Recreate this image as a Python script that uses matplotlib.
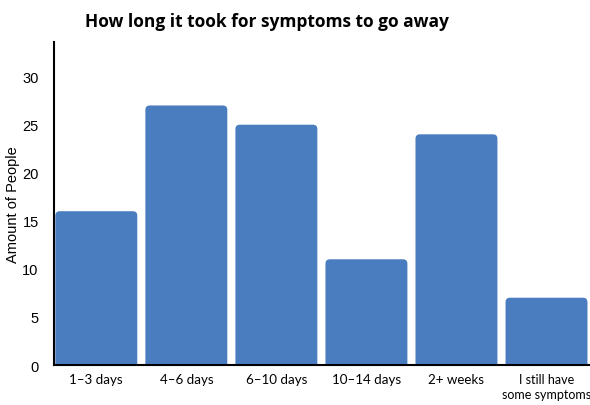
import matplotlib
matplotlib.use("Agg")
import matplotlib.pyplot as plt
from matplotlib.patches import FancyBboxPatch

categories = ["1–3 days", "4–6 days", "6–10 days", "10–14 days", "2+ weeks", "I still have\nsome symptoms"]
values = [16, 27, 25, 11, 24, 7]
yticks = [0, 5, 10, 15, 20, 25, 30]

bar_color = "#4a7dbf"

fig = plt.figure(figsize=(5.9, 4.06), dpi=100)
ax = fig.add_axes([0.0915, 0.0985, 0.9065, 0.7955])

bars = ax.bar(range(len(categories)), values, width=0.91, color=bar_color)
# replace with rounded-top patches
for r in bars:
    x, y, w, h = r.get_x(), r.get_y(), r.get_width(), r.get_height()
    r.set_visible(False)
    p = FancyBboxPatch((x, y - 1), w, h + 1,
                       boxstyle="round,pad=0,rounding_size=0.05",
                       mutation_aspect=9.0, facecolor=bar_color, edgecolor="none",
                       clip_on=True)
    ax.add_patch(p)

ax.set_xlim(-0.47, len(categories) - 0.53)
ax.set_ylim(0, 33.6)
ax.set_yticks(yticks)
ax.set_yticklabels([str(t) for t in yticks], family="Liberation Sans", fontsize=10.5)
ax.set_xticks(range(len(categories)))
ax.set_xticklabels(categories, family="Lato", fontsize=9.6, linespacing=1.3)
ax.tick_params(axis="both", length=0)
ax.tick_params(axis="y", pad=11)
ax.tick_params(axis="x", pad=6)
xl = ax.get_xticklabels()
xl[-1].set_fontsize(9)

for s in ["top", "right"]:
    ax.spines[s].set_visible(False)
ax.spines["left"].set_linewidth(1.5)
ax.spines["bottom"].set_linewidth(1.5)
ax.spines["left"].set_zorder(5)
ax.spines["bottom"].set_zorder(5)

ax.set_ylabel("Amount of People", family="Liberation Sans", fontsize=10.5, labelpad=2)
fig.text(0.453, 0.946, "How long it took for symptoms to go away", ha="center", va="center",
         family="Open Sans", fontweight="bold", fontsize=12.5)

fig.savefig("out.png", dpi=100, facecolor="white")
